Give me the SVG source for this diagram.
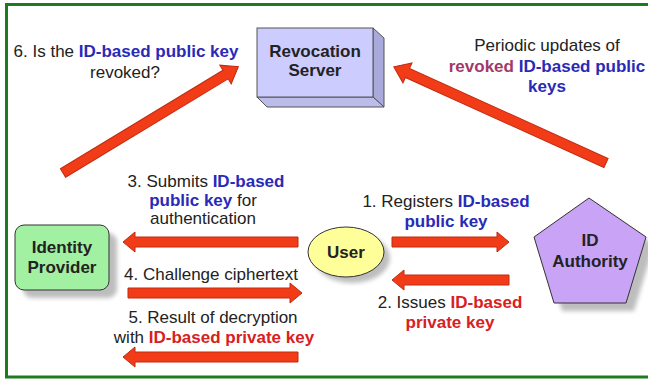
<svg xmlns="http://www.w3.org/2000/svg" width="648" height="381" viewBox="0 0 648 381">
<style>
text{font-family:"Liberation Sans",Arial,sans-serif;font-size:17px;fill:#222;}
.blue{fill:#2a2ab8;font-weight:bold;}
.red{fill:#d82020;font-weight:bold;}
.mauve{fill:#a03a6a;font-weight:bold;}
.node{stroke:#333;stroke-width:1;}
.lbl{font-weight:bold;font-size:17px;fill:#222;text-anchor:middle;}
.arr{fill:#f23c17;stroke:#c02a10;stroke-width:1;}
.shadow{fill:#888;opacity:0.55;filter:url(#blur);}
</style>
<defs>
<filter id="blur" x="-20%" y="-20%" width="140%" height="140%"><feGaussianBlur stdDeviation="2"/></filter>
</defs>
<rect x="0" y="0" width="648" height="381" fill="#fff"/>
<rect x="6.5" y="4.5" width="660" height="372.5" fill="none" stroke="#1e7a1e" stroke-width="3"/>

<g id="revocation-server">
<polygon points="373,28 384,38 384,107 373,97" fill="#a9a9dc" stroke="#555" stroke-width="1"/>
<polygon points="257,97 373,97 384,107 267,107" fill="#bcbcea" stroke="#555" stroke-width="1"/>
<rect x="257" y="28" width="116" height="69" fill="#ccccff" stroke="#555" stroke-width="1"/>
<text class="lbl" x="315" y="57">Revocation</text>
<text class="lbl" x="315" y="76">Server</text>
</g>

<g id="identity-provider">
<rect class="shadow" x="23" y="233" width="94" height="65" rx="9"/>
<rect class="node" x="15" y="225" width="94" height="65" rx="9" fill="#a2f0a2"/>
<text class="lbl" x="62" y="253">Identity</text>
<text class="lbl" x="62" y="273">Provider</text>
</g>

<g id="user">
<ellipse class="shadow" cx="352" cy="258" rx="38" ry="25"/>
<ellipse class="node" cx="346" cy="252" rx="38" ry="25" fill="#ffff99"/>
<text class="lbl" x="346" y="258">User</text>
</g>

<g id="id-authority">
<polygon class="shadow" points="597,206 654,245 634,311 562,311 542,245"/>
<polygon class="node" points="589,198 646,237 626,303 554,303 534,237" fill="#c9a3f5"/>
<text class="lbl" x="590" y="246">ID</text>
<text class="lbl" x="590" y="267">Authority</text>
</g>

<g id="connectors">
<path class="arr" transform="translate(63,173) rotate(-31.2)" d="M0,-5 L190,-5 L190,-11 L205,0 L190,11 L190,5 L0,5 Z"/>
<path class="arr" transform="translate(606,163) rotate(-155.6)" d="M0,-5 L218,-5 L218,-11 L233,0 L218,11 L218,5 L0,5 Z"/>
<path class="arr" transform="translate(392,242)" d="M0,-5 L105,-5 L105,-10 L117,0 L105,10 L105,5 L0,5 Z"/>
<path class="arr" transform="translate(509,280) rotate(180)" d="M0,-5 L105,-5 L105,-10 L117,0 L105,10 L105,5 L0,5 Z"/>
<path class="arr" transform="translate(298,242) rotate(180)" d="M0,-5 L163,-5 L163,-10 L175,0 L163,10 L163,5 L0,5 Z"/>
<path class="arr" transform="translate(128,293)" d="M0,-5 L162,-5 L162,-10 L174,0 L162,10 L162,5 L0,5 Z"/>
<path class="arr" transform="translate(298,357) rotate(180)" d="M0,-5 L163,-5 L163,-10 L175,0 L163,10 L163,5 L0,5 Z"/>
</g>

<g id="labels">
<text x="126" y="57" text-anchor="middle">6. Is the <tspan class="blue">ID-based public key</tspan></text>
<text x="125" y="78" text-anchor="middle">revoked?</text>

<text x="547" y="51" text-anchor="middle">Periodic updates of</text>
<text x="547" y="72" text-anchor="middle"><tspan class="mauve">revoked</tspan> <tspan class="blue">ID-based public</tspan></text>
<text x="547" y="92" text-anchor="middle"><tspan class="blue">keys</tspan></text>

<text x="206" y="187" text-anchor="middle">3. Submits <tspan class="blue">ID-based</tspan></text>
<text x="203" y="206" text-anchor="middle"><tspan class="blue">public key</tspan> for</text>
<text x="203" y="224" text-anchor="middle">authentication</text>

<text x="211" y="280" text-anchor="middle">4. Challenge ciphertext</text>
<text x="213" y="323" text-anchor="middle">5. Result of decryption</text>
<text x="214" y="343" text-anchor="middle">with <tspan class="red">ID-based private key</tspan></text>

<text x="446" y="207" text-anchor="middle">1. Registers <tspan class="blue">ID-based</tspan></text>
<text x="446" y="227" text-anchor="middle"><tspan class="blue">public key</tspan></text>
<text x="450" y="308" text-anchor="middle">2. Issues <tspan class="red">ID-based</tspan></text>
<text x="450" y="328" text-anchor="middle"><tspan class="red">private key</tspan></text>
</g>
</svg>
